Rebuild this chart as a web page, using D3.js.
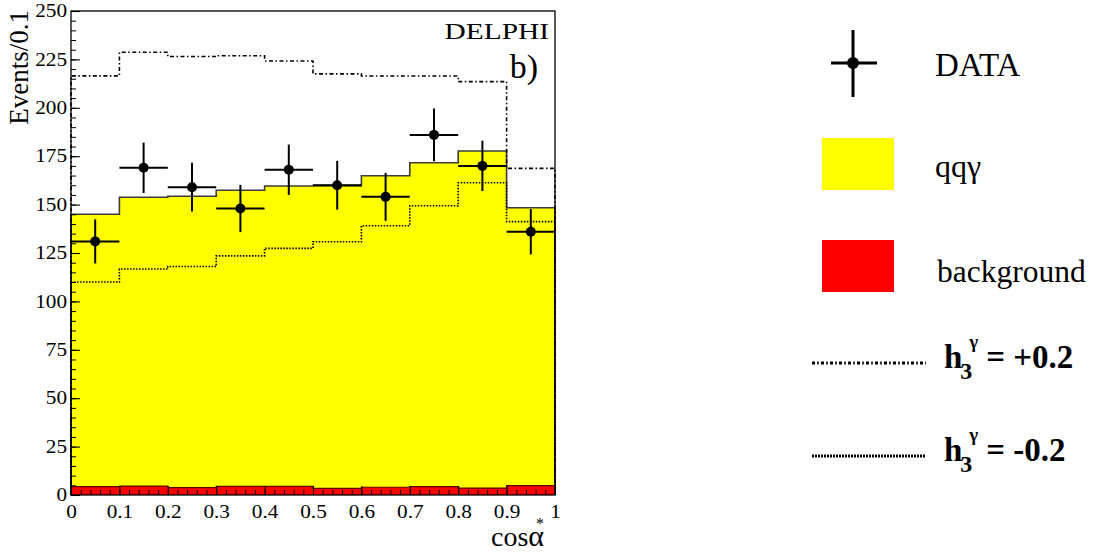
<!DOCTYPE html>
<html>
<head>
<meta charset="utf-8">
<script src="https://cdn.jsdelivr.net/npm/d3@7"></script>
<style>
  html, body { margin: 0; padding: 0; background: #fff; }
  svg { display: block; }
</style>
</head>
<body>
<svg id="chart" width="1099" height="552"></svg>
<script>
// cos(alpha*) distribution, 10 bins of width 0.1
const binLow = [0.0, 0.1, 0.2, 0.3, 0.4, 0.5, 0.6, 0.7, 0.8, 0.9];
const binWidth = 0.1;
// stacked expectation: qq-gamma + background (top of yellow)
const qqgTotal = [145, 153.8, 154.3, 157.4, 159.6, 159.8, 164.9, 171.6, 177.7, 148.4];
// background only (red)
const background = [4.3, 4.6, 3.8, 4.5, 4.5, 3.4, 4.0, 4.3, 3.6, 4.8];
// observed events and their statistical errors
const dataCounts = [131, 169, 159, 148, 168, 160, 154, 186, 170, 136];
const dataErrors = [11.4, 13.0, 12.6, 12.2, 13.0, 12.6, 12.4, 13.6, 13.0, 11.7];
// anomalous coupling predictions
const h3Plus = [216.5, 228.7, 226.5, 226.9, 224.2, 217.5, 216.4, 216.4, 213.5, 168.7];
const h3Minus = [110, 116.7, 118, 123.5, 127.4, 130.8, 139.1, 149.4, 161.3, 141.2];
// axis ticks
const xTickLabels = ["0", "0.1", "0.2", "0.3", "0.4", "0.5", "0.6", "0.7", "0.8", "0.9", "1"];
const xMajor = [0, 0.1, 0.2, 0.3, 0.4, 0.5, 0.6, 0.7, 0.8, 0.9, 1.0];
const yMajor = [0, 25, 50, 75, 100, 125, 150, 175, 200, 225, 250];

const SERIF = '"Liberation Serif"';
const svg = d3.select("#chart");
const frame = { left: 71, top: 11, right: 555, bottom: 495 };

const x = d3.scaleLinear().domain([0, 1]).range([frame.left, frame.right]);
const y = d3.scaleLinear().domain([0, 250]).range([frame.bottom, frame.top]);

// histogram outline points: rises from zero at the left edge, falls to zero at the right
function stepPoints(vals) {
  const pts = [[0, 0]];
  vals.forEach((v, i) => pts.push([binLow[i], v]));
  pts.push([binLow[binLow.length - 1] + binWidth, vals[vals.length - 1]]);
  pts.push([binLow[binLow.length - 1] + binWidth, 0]);
  return pts;
}
const stepLine = d3.line().x(d => x(d[0])).y(d => y(d[1])).curve(d3.curveStepAfter);
const stepArea = d3.area().x(d => x(d[0])).y0(y(0)).y1(d => y(d[1])).curve(d3.curveStepAfter);

function serifText(sel, size) {
  return sel.style("font-family", SERIF).style("font-size", size + "px").attr("fill", "#000");
}

const plot = svg.append("g");

// qq-gamma (yellow) filled histogram
plot.append("path").datum(stepPoints(qqgTotal)).attr("d", stepArea).attr("fill", "#ffff00");
plot.append("path").datum(stepPoints(qqgTotal)).attr("d", stepLine)
  .attr("fill", "none").attr("stroke", "#3c3c3c").attr("stroke-width", 1.6);

// background (red) filled histogram
plot.append("path").datum(stepPoints(background)).attr("d", stepArea).attr("fill", "#ff0000");
plot.append("path").datum(stepPoints(background)).attr("d", stepLine)
  .attr("fill", "none").attr("stroke", "#5a0000").attr("stroke-width", 1.2);

// h3 = -0.2 (dotted)
plot.append("path").datum(stepPoints(h3Minus)).attr("d", stepLine)
  .attr("fill", "none").attr("stroke", "#000").attr("stroke-width", 1.6)
  .attr("stroke-dasharray", "1.5,1.5");
// h3 = +0.2 (dash-dot)
plot.append("path").datum(stepPoints(h3Plus)).attr("d", stepLine)
  .attr("fill", "none").attr("stroke", "#000").attr("stroke-width", 1.6)
  .attr("stroke-dasharray", "4,2.5,1.5,2.5");

// data points with error bars
const pts = plot.append("g").selectAll("g").data(dataCounts).join("g");
pts.append("line")
  .attr("x1", (d, i) => x(binLow[i])).attr("x2", (d, i) => x(binLow[i] + binWidth))
  .attr("y1", d => y(d)).attr("y2", d => y(d))
  .attr("stroke", "#000").attr("stroke-width", 2);
pts.append("line")
  .attr("x1", (d, i) => x(binLow[i] + binWidth / 2)).attr("x2", (d, i) => x(binLow[i] + binWidth / 2))
  .attr("y1", (d, i) => y(d + dataErrors[i])).attr("y2", (d, i) => y(d - dataErrors[i]))
  .attr("stroke", "#000").attr("stroke-width", 2);
pts.append("circle")
  .attr("cx", (d, i) => x(binLow[i] + binWidth / 2)).attr("cy", d => y(d))
  .attr("r", 5).attr("fill", "#000");

// frame
svg.append("rect")
  .attr("x", frame.left).attr("y", frame.top)
  .attr("width", frame.right - frame.left).attr("height", frame.bottom - frame.top)
  .attr("fill", "none").attr("stroke", "#000").attr("stroke-width", 1.3);

const labelStretch = 1.18;

// y axis: inward ticks, major every 25, minor every 5
const yMinorAxis = d3.axisLeft(y).tickValues(d3.range(0, 251, 5)).tickSize(-5).tickFormat("");
svg.append("g").attr("transform", `translate(${frame.left},0)`).call(yMinorAxis)
  .call(g => g.select(".domain").remove());
const yAxis = d3.axisLeft(y).tickValues(yMajor).tickSize(-9).tickPadding(4).tickFormat(d3.format("d"));
const yg = svg.append("g").attr("transform", `translate(${frame.left},0)`).call(yAxis);
yg.select(".domain").remove();
yg.attr("font-family", null).attr("font-size", null);
yg.selectAll("line").attr("stroke-width", 1.1);
serifText(yg.selectAll("text"), 18)
  .attr("x", -4 / labelStretch).attr("transform", `scale(${labelStretch},1)`);

// x axis: inward ticks, major every 0.1, minor every 0.02
const xMinorAxis = d3.axisBottom(x).tickValues(d3.range(0, 51).map(i => i / 50)).tickSize(-5).tickFormat("");
svg.append("g").attr("transform", `translate(0,${frame.bottom})`).call(xMinorAxis)
  .call(g => g.select(".domain").remove());
const xAxis = d3.axisBottom(x).tickValues(xMajor).tickSize(-9).tickPadding(10)
  .tickFormat((d, i) => xTickLabels[i]);
const xg = svg.append("g").attr("transform", `translate(0,${frame.bottom})`).call(xAxis);
xg.select(".domain").remove();
xg.attr("font-family", null).attr("font-size", null);
xg.selectAll("line").attr("stroke-width", 1.1);
serifText(xg.selectAll("text"), 18)
  .attr("transform", `scale(${labelStretch},1)`);

// axis titles
serifText(svg.append("text"), 27)
  .attr("transform", `translate(28,10) rotate(-90)`)
  .attr("text-anchor", "end")
  .text("Events/0.1");
const xt = serifText(svg.append("text"), 28).attr("x", 491).attr("y", 546);
xt.append("tspan").text("cos");
xt.append("tspan").style("font-size", "30px").text("α");
xt.append("tspan").style("font-size", "16px").attr("dx", -8).attr("dy", -17).text("*");

// experiment label and panel tag
serifText(svg.append("text"), 23.5).attr("transform", `translate(549,39) scale(1.25,1)`)
  .attr("text-anchor", "end").text("DELPHI");
serifText(svg.append("text"), 34).attr("x", 538).attr("y", 78).attr("text-anchor", "end")
  .text("b)");

// legend
const leg = svg.append("g");
// DATA marker
leg.append("line").attr("x1", 853).attr("x2", 853).attr("y1", 30).attr("y2", 97)
  .attr("stroke", "#000").attr("stroke-width", 3);
leg.append("line").attr("x1", 831).attr("x2", 877).attr("y1", 63).attr("y2", 63)
  .attr("stroke", "#000").attr("stroke-width", 3);
leg.append("circle").attr("cx", 853).attr("cy", 63).attr("r", 6).attr("fill", "#000");
serifText(leg.append("text"), 33).attr("x", 935).attr("y", 76).text("DATA");
// fills
leg.append("rect").attr("x", 822).attr("y", 138).attr("width", 72).attr("height", 52).attr("fill", "#ffff00");
serifText(leg.append("text"), 32).attr("x", 935).attr("y", 177).text("qqγ");
leg.append("rect").attr("x", 822).attr("y", 240).attr("width", 72).attr("height", 52).attr("fill", "#ff0000");
serifText(leg.append("text"), 31.5).attr("x", 937).attr("y", 282).text("background");
// coupling lines
function couplingEntry(yPos, dash, sign) {
  leg.append("line").attr("x1", 812).attr("x2", 926).attr("y1", yPos).attr("y2", yPos)
    .attr("stroke", "#000").attr("stroke-width", 3).attr("stroke-dasharray", dash);
  const t = serifText(leg.append("text"), 33).attr("x", 944).attr("y", yPos + 5)
    .style("font-weight", "bold");
  t.append("tspan").text("h");
  t.append("tspan").style("font-size", "24px").attr("dy", 11).attr("dx", -2).text("3");
  t.append("tspan").style("font-size", "19px").attr("dy", -31).attr("dx", -3).text("γ");
  t.append("tspan").attr("dy", 20).attr("dx", 8).text("= " + sign + "0.2");
}
couplingEntry(363, "3,2.2,1.6,2.2", "+");
couplingEntry(456, "2,1", "-");
</script>
</body>
</html>
